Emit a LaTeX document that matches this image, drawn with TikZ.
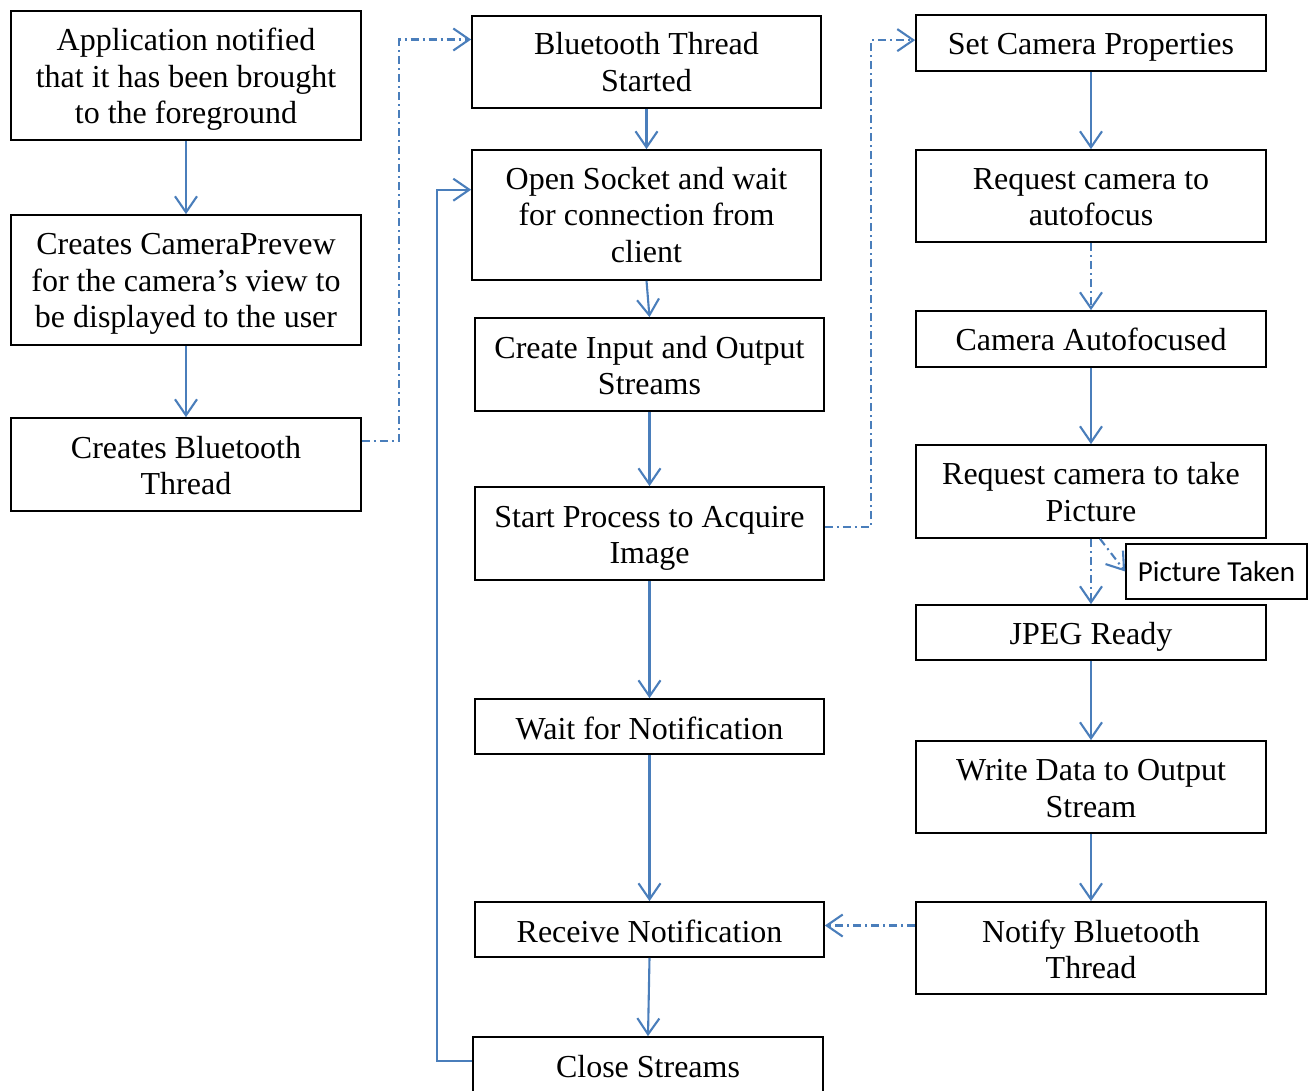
\documentclass[tikz,border=0pt]{standalone}
\usepackage{fontspec}
\setmainfont{Liberation Serif}
\newfontfamily\labelsans{Carlito}
\usetikzlibrary{arrows.meta,calc}
\definecolor{flowblue}{HTML}{4A7EBB}
\tikzset{
  box/.style={draw=black, line width=1.7pt, inner sep=0pt},
  boxtext/.style={align=center, inner sep=0pt, font=\fontsize{32}{36.5}\selectfont},
  flow/.style={draw=flowblue, line width=2.1pt,
               -{Straight Barb[length=16pt,width=22pt,line width=2.1pt]}},
  signal/.style={flow, dash pattern=on 8pt off 4pt on 2pt off 4pt},
}
% #1 text drop, #2 name, #3 width, #4 height, #5 x, #6 y, #7 text
\newcommand\flowbox[7][0]{%
  \node[box, minimum width=#3pt, minimum height=#4pt] (#2) at (#5,#6) {};
  \node[boxtext] (#2-text) at (#5,#6+#1) {#7};}
\begin{document}
\begin{tikzpicture}[x=1pt,y=-1pt]
\clip (0,0) rectangle (1309,1091);

% main activity
\flowbox[4]{A1}{350}{129}{186}{75.5}{Application notified\\that it has been brought\\to the foreground}
\flowbox[4]{A2}{350}{130}{186}{280}{Creates CameraPrevew\\for the camera’s view to\\be displayed to the user}
\flowbox[1]{A3}{350}{93}{186}{464.5}{Creates Bluetooth\\Thread}

% bluetooth thread
\flowbox{B1}{349}{92}{646.5}{62}{Bluetooth Thread\\Started}
\flowbox{B2}{349}{130}{646.5}{215}{Open Socket and wait\\for connection from\\client}
\flowbox[1]{B3}{349}{93}{649.5}{364.5}{Create Input and Output\\Streams}
\flowbox[5]{B4}{349}{93}{649.5}{533.5}{Start Process to Acquire\\Image}
\flowbox[2]{B5}{349}{55}{649.5}{726.5}{Wait for Notification}
\flowbox[2]{B6}{349}{55}{649.5}{929.5}{Receive Notification}
\flowbox[2]{B7}{350}{56}{648}{1065}{Close Streams}

% camera
\flowbox[4]{C1}{350}{56}{1091}{43}{Set Camera Properties}
\flowbox[1]{C2}{350}{92}{1091}{196}{Request camera to\\autofocus}
\flowbox{C3}{350}{56}{1091}{339}{Camera Autofocused}
\flowbox[0.5]{C4}{350}{93}{1091}{491.5}{Request camera to take\\Picture}
\flowbox[4]{C5}{350}{55}{1091}{632.5}{JPEG Ready}
\flowbox[1.5]{C6}{350}{92}{1091}{787}{Write Data to Output\\Stream}
\flowbox[1.5]{C7}{350}{92}{1091}{948}{Notify Bluetooth\\Thread}
\node[box, minimum width=181pt, minimum height=55pt] (PT) at (1216.5,571.5) {};
\node[boxtext, font=\labelsans\fontsize{29}{34}\selectfont] (PT-text) at (1216.5,571.5) {Picture Taken};

% connector anchors
\coordinate (a3out) at ($(A3.north east)!0.25!(A3.south east)$);
\coordinate (b1in)  at ($(B1.north west)!0.26!(B1.south west)$);
\coordinate (busA)  at (399,0);
\coordinate (b2in)  at ($(B2.north west)!0.308!(B2.south west)$);
\coordinate (b7out) at ($(B7.north west)!0.43!(B7.south west)$);
\coordinate (loopL) at (437,0);
\coordinate (b4out) at ($(B4.north east)!0.43!(B4.south east)$);
\coordinate (c1in)  at ($(C1.north west)!0.45!(C1.south west)$);
\coordinate (busB)  at (871,0);
\coordinate (c7out) at ($(C7.north west)!0.26!(C7.south west)$);
\coordinate (c4tap) at ($(C4.south)+(9,0)$);

% solid flow
\draw[flow] (A1) -- (A2);
\draw[flow] (A2) -- (A3);
\draw[flow] (B1) -- (B2);
\draw[flow] (B2.south) -- (B3.north);
\draw[flow] (B3) -- (B4);
\draw[flow] (B4) -- (B5);
\draw[flow] (B5) -- (B6);
\draw[flow] (B6.south) -- (B7.north);
\draw[flow] (b7out) -- (b7out -| loopL) |- (b2in);
\draw[flow] (C1) -- (C2);
\draw[flow] (C3) -- (C4);
\draw[flow] (C5) -- (C6);
\draw[flow] (C6) -- (C7);

% signals between threads
\draw[signal] (a3out) -- (a3out -| busA) |- (b1in);
\draw[signal] (b4out) -- (b4out -| busB) |- (c1in);
\draw[signal] (C2) -- (C3);
\draw[signal] (C4) -- (C5);
\draw[signal] (c4tap) -- (PT.west);
\draw[signal] (c7out) -- (c7out -| B6.east);
\end{tikzpicture}
\end{document}
